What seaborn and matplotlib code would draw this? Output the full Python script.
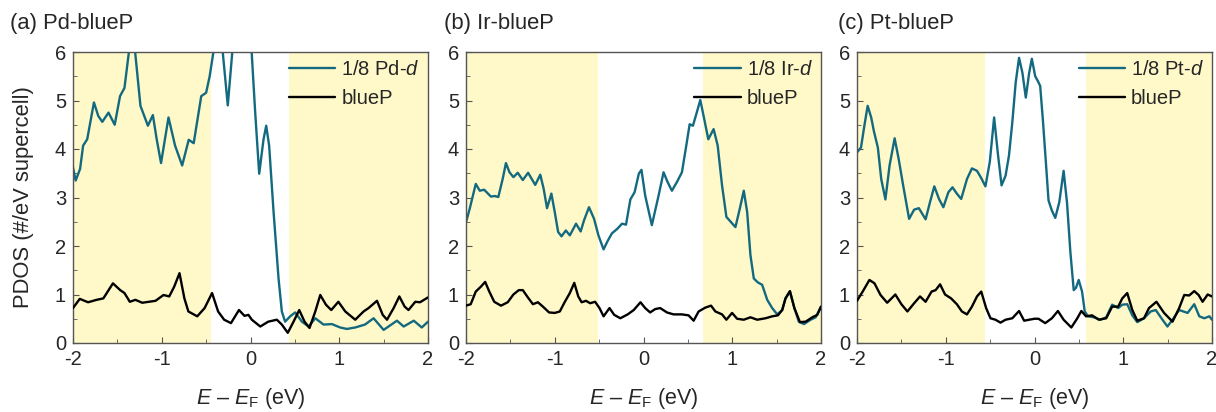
import matplotlib
matplotlib.use("Agg")
import matplotlib.pyplot as plt
import seaborn as sns

# === Data ===
# (a) Pd-blueP
pd_d_e = [-2.0, -1.97, -1.92, -1.886, -1.84, -1.764, -1.715, -1.67, -1.60, -1.53,
          -1.47, -1.42, -1.37, -1.34, -1.32, -1.30, -1.24, -1.156, -1.10, -1.057,
          -1.008, -0.924, -0.85, -0.77, -0.696, -0.64, -0.555, -0.5, -0.46, -0.418,
          -0.38, -0.34, -0.313, -0.256, -0.205, -0.15, -0.08, -0.03, 0.013, 0.053,
          0.098, 0.147, 0.177, 0.21, 0.26, 0.316, 0.353, 0.39, 0.447, 0.504,
          0.579, 0.654, 0.73, 0.823, 0.917, 1.01, 1.086, 1.18, 1.29, 1.387,
          1.5, 1.65, 1.726, 1.84, 1.93, 2.0]
pd_d_dos = [3.62, 3.35, 3.59, 4.07, 4.2, 4.96, 4.68, 4.56, 4.75, 4.5,
            5.09, 5.26, 6.0, 6.6, 6.5, 6.0, 4.89, 4.48, 4.7, 4.2,
            3.71, 4.65, 4.07, 3.66, 4.19, 4.12, 5.09, 5.16, 5.5, 6.0,
            6.8, 6.7, 6.0, 4.9, 6.0, 7.5, 7.8, 7.0, 6.0, 4.75,
            3.49, 4.2, 4.48, 4.07, 2.7, 1.33, 0.65, 0.44, 0.55, 0.63,
            0.44, 0.34, 0.51, 0.38, 0.39, 0.32, 0.29, 0.32, 0.38, 0.51,
            0.27, 0.46, 0.34, 0.46, 0.32, 0.44]
pd_p_e = [-2.0, -1.924, -1.83, -1.734, -1.658, -1.55, -1.468, -1.42, -1.36, -1.297,
          -1.22, -1.144, -1.07, -0.98, -0.916, -0.86, -0.80, -0.745, -0.70, -0.60,
          -0.517, -0.433, -0.365, -0.297, -0.22, -0.13, -0.068, -0.023, 0.015, 0.11,
          0.2, 0.297, 0.353, 0.42, 0.485, 0.549, 0.609, 0.665, 0.73, 0.786,
          0.85, 0.91, 0.99, 1.068, 1.18, 1.274, 1.33, 1.425, 1.49, 1.538,
          1.613, 1.677, 1.737, 1.78, 1.857, 1.91, 2.0]
pd_p_dos = [0.72, 0.91, 0.84, 0.89, 0.92, 1.23, 1.09, 1.03, 0.85, 0.89,
            0.83, 0.85, 0.87, 0.99, 0.96, 1.16, 1.44, 0.92, 0.65, 0.55,
            0.72, 1.03, 0.65, 0.48, 0.41, 0.68, 0.56, 0.58, 0.48, 0.34,
            0.44, 0.48, 0.38, 0.21, 0.44, 0.68, 0.44, 0.31, 0.65, 0.99,
            0.79, 0.68, 0.85, 0.65, 0.48, 0.65, 0.72, 0.87, 0.58, 0.48,
            0.72, 0.96, 0.75, 0.68, 0.85, 0.84, 0.94]

# (b) Ir-blueP
ir_d_e = [-2.0, -1.958, -1.89, -1.845, -1.795, -1.72, -1.674, -1.636, -1.587, -1.55,
          -1.51, -1.466, -1.417, -1.36, -1.3, -1.265, -1.22, -1.163, -1.125, -1.087,
          -1.038, -1.0, -0.962, -0.924, -0.875, -0.83, -0.76, -0.708, -0.67, -0.614,
          -0.557, -0.508, -0.45, -0.405, -0.356, -0.292, -0.242, -0.197, -0.148, -0.1,
          -0.053, -0.023, 0.019, 0.094, 0.17, 0.226, 0.271, 0.32, 0.377, 0.433,
          0.482, 0.52, 0.557, 0.595, 0.64, 0.685, 0.73, 0.79, 0.836, 0.885,
          0.934, 0.987, 1.036, 1.085, 1.13, 1.168, 1.205, 1.243, 1.288, 1.337,
          1.394, 1.45, 1.507, 1.563, 1.6, 1.65, 1.7, 1.75, 1.808, 1.883,
          1.94, 2.0]
ir_d_dos = [2.49, 2.77, 3.28, 3.14, 3.16, 3.02, 3.03, 3.01, 3.38, 3.71,
            3.52, 3.42, 3.51, 3.36, 3.51, 3.40, 3.26, 3.47, 3.18, 2.78,
            3.08, 2.7, 2.29, 2.2, 2.32, 2.22, 2.46, 2.30, 2.53, 2.8,
            2.56, 2.22, 1.93, 2.1, 2.26, 2.36, 2.46, 2.44, 2.96, 3.11,
            3.49, 3.57, 3.04, 2.43, 3.04, 3.52, 3.32, 3.14, 3.32, 3.52,
            4.07, 4.51, 4.48, 4.72, 5.01, 4.61, 4.2, 4.41, 4.07, 3.25,
            2.6, 2.49, 2.39, 2.77, 3.14, 2.7, 1.81, 1.33, 1.25, 1.2,
            0.89, 0.72, 0.59, 0.68, 0.92, 1.06, 0.72, 0.44, 0.39, 0.48,
            0.53, 0.75]
ir_p_e = [-2.0, -1.947, -1.89, -1.833, -1.784, -1.74, -1.682, -1.606, -1.53, -1.466,
          -1.405, -1.36, -1.303, -1.246, -1.19, -1.133, -1.064, -1.0, -0.943, -0.886,
          -0.83, -0.78, -0.735, -0.697, -0.648, -0.602, -0.545, -0.496, -0.45, -0.383,
          -0.33, -0.261, -0.178, -0.11, -0.034, 0.019, 0.075, 0.132, 0.188, 0.264,
          0.339, 0.433, 0.508, 0.565, 0.621, 0.697, 0.761, 0.81, 0.885, 0.934,
          0.998, 1.055, 1.13, 1.205, 1.281, 1.375, 1.45, 1.514, 1.563, 1.6,
          1.65, 1.7, 1.763, 1.827, 1.902, 1.958, 2.0]
ir_p_dos = [0.77, 0.8, 1.06, 1.16, 1.26, 1.07, 0.85, 0.77, 0.84, 1.0,
            1.09, 1.09, 0.94, 0.8, 0.84, 0.75, 0.63, 0.62, 0.65, 0.85,
            1.03, 1.24, 0.96, 0.84, 0.87, 0.82, 0.85, 0.72, 0.55, 0.72,
            0.58, 0.51, 0.59, 0.68, 0.84, 0.72, 0.63, 0.70, 0.72, 0.63,
            0.59, 0.59, 0.57, 0.46, 0.65, 0.73, 0.77, 0.65, 0.59, 0.48,
            0.62, 0.5, 0.48, 0.53, 0.48, 0.51, 0.55, 0.57, 0.68, 0.92,
            1.07, 0.72, 0.43, 0.44, 0.53, 0.58, 0.75]

# (c) Pt-blueP
pt_d_e = [-2.0, -1.955, -1.917, -1.88, -1.84, -1.81, -1.765, -1.727, -1.68, -1.633,
          -1.576, -1.53, -1.48, -1.413, -1.356, -1.303, -1.227, -1.178, -1.129, -1.076,
          -1.027, -0.97, -0.924, -0.875, -0.826, -0.761, -0.705, -0.648, -0.6, -0.553,
          -0.504, -0.455, -0.41, -0.371, -0.326, -0.288, -0.25, -0.212, -0.174, -0.136,
          -0.098, -0.06, -0.03, 0.008, 0.038, 0.064, 0.094, 0.128, 0.158, 0.196,
          0.234, 0.279, 0.328, 0.366, 0.404, 0.442, 0.468, 0.498, 0.536, 0.566,
          0.604, 0.668, 0.743, 0.808, 0.875, 0.943, 0.989, 1.045, 1.102, 1.158,
          1.234, 1.309, 1.366, 1.442, 1.498, 1.555, 1.63, 1.725, 1.8, 1.857,
          1.913, 1.97, 2.0]
pt_d_dos = [3.93, 4.03, 4.48, 4.89, 4.65, 4.37, 4.03, 3.38, 2.96, 3.66,
            4.22, 3.79, 3.25, 2.56, 2.75, 2.78, 2.55, 2.9, 3.23, 2.97,
            2.8, 3.11, 3.21, 3.08, 2.97, 3.38, 3.6, 3.55, 3.4, 3.23,
            3.73, 4.65, 3.86, 3.25, 3.45, 3.86, 4.55, 5.37, 5.88, 5.57,
            5.06, 5.57, 5.86, 5.5, 5.4, 5.3, 4.61, 3.73, 2.94, 2.73,
            2.58, 2.9, 3.55, 2.9, 1.88, 1.09, 1.14, 1.3, 1.06, 0.65,
            0.55, 0.53, 0.48, 0.53, 0.79, 0.72, 0.79, 0.8, 0.57, 0.43,
            0.51, 0.65, 0.68, 0.48, 0.34, 0.48, 0.68, 0.62, 0.8, 0.55,
            0.51, 0.55, 0.48]
pt_p_e = [-2.0, -1.936, -1.86, -1.803, -1.735, -1.66, -1.568, -1.5, -1.432, -1.356,
          -1.29, -1.227, -1.16, -1.114, -1.064, -1.008, -0.94, -0.875, -0.818, -0.761,
          -0.705, -0.648, -0.6, -0.545, -0.496, -0.44, -0.383, -0.326, -0.25, -0.174,
          -0.117, -0.06, 0.0, 0.045, 0.121, 0.196, 0.264, 0.328, 0.415, 0.479,
          0.528, 0.581, 0.649, 0.725, 0.808, 0.875, 0.943, 0.989, 1.045, 1.102,
          1.158, 1.234, 1.29, 1.374, 1.46, 1.555, 1.63, 1.687, 1.743, 1.8,
          1.849, 1.894, 1.951, 2.0]
pt_p_dos = [0.87, 1.06, 1.3, 1.23, 0.99, 0.83, 1.0, 0.8, 0.65, 0.82,
            0.96, 0.85, 1.06, 1.09, 1.21, 1.0, 0.92, 0.8, 0.65, 0.59,
            0.75, 0.96, 1.06, 0.72, 0.51, 0.48, 0.42, 0.48, 0.51, 0.66,
            0.46, 0.48, 0.5, 0.5, 0.41, 0.51, 0.66, 0.48, 0.32, 0.5,
            0.66, 0.55, 0.57, 0.48, 0.51, 0.75, 0.75, 0.92, 1.03, 0.68,
            0.46, 0.51, 0.72, 0.85, 0.62, 0.44, 0.72, 0.99, 0.98, 1.07,
            0.99, 0.85, 1.0, 0.96]

titles = ["(a) Pd-blueP", "(b) Ir-blueP", "(c) Pt-blueP"]
metals = ["Pd", "Ir", "Pt"]
shade_lo = [-0.45, -0.51, -0.56]   # end of left shaded window
shade_hi = [0.43, 0.67, 0.58]      # start of right shaded window

panels = [
    (pd_d_e, pd_d_dos, pd_p_e, pd_p_dos),
    (ir_d_e, ir_d_dos, ir_p_e, ir_p_dos),
    (pt_d_e, pt_d_dos, pt_p_e, pt_p_dos),
]

# === Style ===
sns.set_style("ticks")
plt.rcParams["font.family"] = ["Liberation Sans", "DejaVu Sans"]
plt.rcParams["mathtext.fontset"] = "custom"
plt.rcParams["mathtext.rm"] = "Liberation Sans"
plt.rcParams["mathtext.it"] = "Liberation Sans:italic"
plt.rcParams["axes.unicode_minus"] = False

teal = "#136a80"
shade = "#fff8c9"
frame = "#555555"

W, H = 1216, 412
fig = plt.figure(figsize=(W / 100, H / 100), dpi=100)
lefts = [73, 466, 857]
title_x = [10, 444, 838]

for i, (de, dd, pe, pdos) in enumerate(panels):
    ax = fig.add_axes([lefts[i] / W, 69 / H, 355 / W, 291 / H])
    ax.axvspan(-2, shade_lo[i], color=shade, lw=0, zorder=0)
    ax.axvspan(shade_hi[i], 2, color=shade, lw=0, zorder=0)

    sns.lineplot(x=de, y=dd, ax=ax, color=teal, lw=1.7, sort=False,
                 label=f"1/8 {metals[i]}-$d$", zorder=2,
                 solid_joinstyle="round", solid_capstyle="round")
    sns.lineplot(x=pe, y=pdos, ax=ax, color="black", lw=1.7, sort=False,
                 label="blueP", zorder=3,
                 solid_joinstyle="round", solid_capstyle="round")

    ax.set_xlim(-2, 2)
    ax.set_ylim(0, 6)
    ax.set_xticks([-2, -1, 0, 1, 2])
    ax.set_yticks([0, 1, 2, 3, 4, 5, 6])
    ax.set_xticks([-1.5, -0.5, 0.5, 1.5], minor=True)
    ax.set_yticks([0.5, 1.5, 2.5, 3.5, 4.5, 5.5], minor=True)
    ax.tick_params(which="both", direction="in", color=frame, labelsize=14.5, pad=5)
    ax.tick_params(which="major", length=4)
    ax.tick_params(which="minor", length=3)
    for sp in ax.spines.values():
        sp.set_color(frame)
        sp.set_linewidth(1.0)

    ax.set_xlabel(r"$E$ – $E_\mathrm{F}$ (eV)", fontsize=15.5, labelpad=12)
    if i == 0:
        ax.set_ylabel("PDOS (#/eV supercell)", fontsize=15.8, labelpad=15)
    else:
        ax.set_ylabel("")

    ax.legend(loc="upper right", frameon=False, fontsize=14.5, handlelength=2.3,
              handletextpad=0.3, labelspacing=0.5, borderpad=0.1, borderaxespad=0.3)

    fig.text(title_x[i] / W, 1 - 24 / H, titles[i], fontsize=15.8,
             va="center", ha="left")

plt.savefig("out.png", dpi=100)
plt.close()
